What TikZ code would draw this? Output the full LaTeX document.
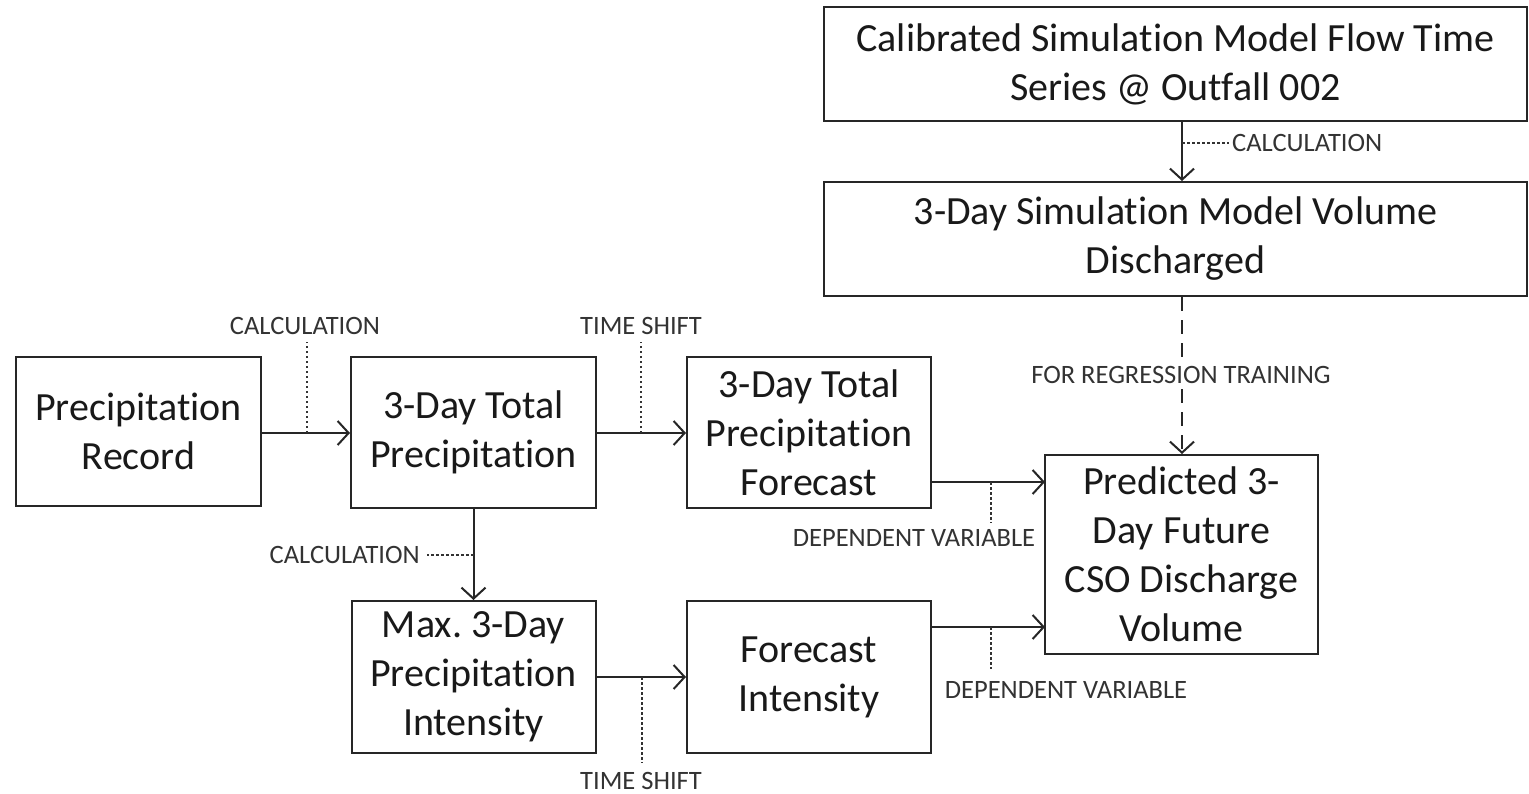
\documentclass[tikz,border=0pt]{standalone}
\usepackage{fontspec}
\setmainfont{Carlito}[Ligatures={NoCommon}]
\usetikzlibrary{arrows.meta}
\frenchspacing
\tikzset{
  box/.style={draw=black!85, line width=2pt, align=center, inner sep=0pt,
    font=\fontsize{40}{49}\selectfont, text=black!90},
  lab/.style={font=\fontsize{26.5}{30}\selectfont, text=black!80, inner sep=1pt},
  conn/.style={draw=black!85, line width=2pt, -{Straight Barb[length=11pt,width=24pt,line width=2pt]}},
  dotline/.style={draw=black!80, line width=1.6pt, dash pattern=on 2.5pt off 2.5pt},
  longdash/.style={draw=black!85, line width=2pt, dash pattern=on 14pt off 9pt}
}
\begin{document}
\begin{tikzpicture}[x=1pt,y=-1pt]
\useasboundingbox[fill=white] (0,0) rectangle (1529,793);
% boxes
\node[box, minimum width=245pt, minimum height=149pt] (A) at (138.5,431.5) {Precipitation\\Record};
\node[box, minimum width=245pt, minimum height=151pt] (B) at (473.5,432.5) {3-Day Total\\Precipitation};
\node[box, minimum width=244pt, minimum height=151pt] (C) at (809,432.5) {3-Day Total\\Precipitation\\Forecast};
\node[box, minimum width=244pt, minimum height=152pt] (D) at (473.5,677) {Max. 3-Day\\Precipitation\\Intensity};
\node[box, minimum width=244pt, minimum height=152pt] (E) at (809,677) {Forecast\\Intensity};
\node[box, minimum width=273pt, minimum height=199pt] (F) at (1181.5,554.5) {Predicted 3-\\Day Future\\CSO Discharge\\Volume};
\node[box, minimum width=703pt, minimum height=114pt] (G) at (1175.5,64) {Calibrated Simulation Model Flow Time\\Series @ Outfall 002};
\node[box, minimum width=703pt, minimum height=114pt] (H) at (1175.5,239) {3-Day Simulation Model Volume\\Discharged};
% labels
\node[lab] (lAB) at (305,326) {CALCULATION};
\node[lab] (lBC) at (641,326) {TIME SHIFT};
\node[lab] (lCF) at (914,538) {DEPENDENT VARIABLE};
\node[lab] (lEF) at (1066,690) {DEPENDENT VARIABLE};
\node[lab, anchor=east] (lBD) at (421,555) {CALCULATION};
\node[lab, anchor=base] (lDE) at (641,789) {TIME SHIFT};
\node[lab, anchor=west] (lGH) at (1231,143) {CALCULATION};
% coordinates
\coordinate (cC) at (931,482);
\coordinate (cF1) at (1045,482);
\coordinate (cE) at (931,627);
\coordinate (cF2) at (1045,627);
\coordinate (pAB) at (307,433);
\coordinate (qAB) at (307,342);
\coordinate (pBC) at (641,433);
\coordinate (qBC) at (641,342);
\coordinate (pCF) at (991,482);
\coordinate (qCF) at (991,523);
\coordinate (pEF) at (991,627);
\coordinate (qEF) at (991,669);
\coordinate (pBD) at (473.5,555);
\coordinate (qBD) at (427,555);
\coordinate (pDE) at (642,677);
\coordinate (qDE) at (642,763);
\coordinate (pGH) at (1182,143);
\coordinate (qGH) at (1229,143);
% main connectors
\draw[conn] (A.east |- pAB) -- (B.west |- pAB);
\draw[conn] (B.east |- pBC) -- (C.west |- pBC);
\draw[conn] (cC) -- (cF1);
\draw[conn] (cE) -- (cF2);
\draw[conn] (B.south) -- (D.north);
\draw[conn] (D.east) -- (E.west);
\draw[conn] (G.south -| pGH) -- (H.north -| pGH);
\draw[longdash, -{Straight Barb[length=11pt,width=24pt,line width=2pt]}] (H.south -| pGH) -- (F.north -| pGH);
\node[lab, fill=white, inner sep=3pt] (lHF) at (1181,375) {FOR REGRESSION TRAINING};
% dotted annotation leaders
\draw[dotline] (pAB) -- (qAB);
\draw[dotline] (pBC) -- (qBC);
\draw[dotline] (pCF) -- (qCF);
\draw[dotline] (pEF) -- (qEF);
\draw[dotline] (pBD) -- (qBD);
\draw[dotline] (pDE) -- (qDE);
\draw[dotline] (pGH) -- (qGH);
\end{tikzpicture}
\end{document}
